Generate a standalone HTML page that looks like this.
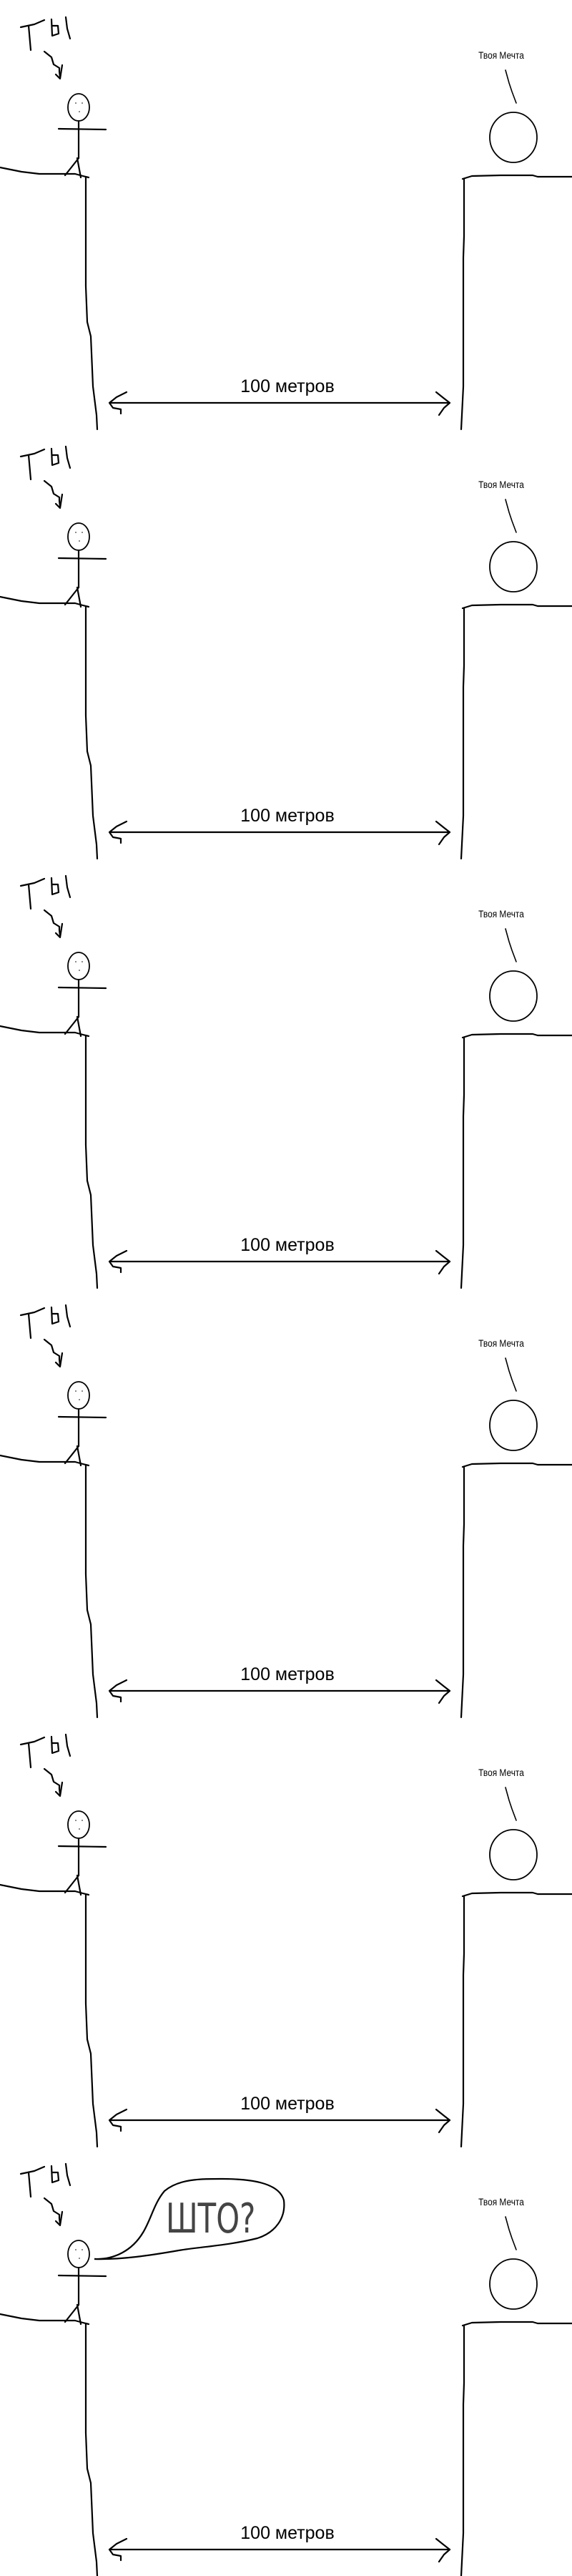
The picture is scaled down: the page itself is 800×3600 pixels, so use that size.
<!DOCTYPE html>
<html><head><meta charset="utf-8"><style>
html,body{margin:0;padding:0;background:#fff;}
svg{display:block}
</style></head><body>
<svg width="800" height="3600" viewBox="0 0 800 3600" xmlns="http://www.w3.org/2000/svg">
<defs>
<g id="p" fill="none" stroke="#000" stroke-width="2.2" stroke-linecap="round" stroke-linejoin="round">
  <path d="M29 38 L48 34 L62 28"/>
  <path d="M40 36 L43 70"/>
  <path d="M72 27 L73 50 L82 47 L81 36 L73 36"/>
  <path d="M92 24 L94 40 L98 54"/>
  <path d="M62 72 L72 80 L75 90 L83 95 L83 100 L84 108"/>
  <path d="M78 104 L84 110 L87 91"/>
  <ellipse cx="110" cy="150" rx="15" ry="19" stroke-width="1.8"/>
  <circle cx="106" cy="144" r="0.8" fill="#000" stroke="none"/>
  <circle cx="115" cy="144" r="0.8" fill="#000" stroke="none"/>
  <circle cx="111" cy="156" r="0.8" fill="#000" stroke="none"/>
  <path d="M110 169 L110 221"/>
  <path d="M82 180 L148 181"/>
  <path d="M110 221 L91 245 M108 221 L113 248"/>
  <path d="M0 234 L10 236 L30 240 L55 243 L105 243 L116 246 L124 248"/>
  <path d="M120 248 L120 400 L122 450 L127 470 L130 540 L135 580 L136 600"/>
  <path d="M647 250 L660 246 L700 245 L745 245 L752 247 L800 247"/>
  <path d="M649 250 L649 330 L648 360 L648 540 L646 580 L645 600"/>
  <ellipse cx="718" cy="192" rx="33" ry="35" stroke-width="1.8"/>
  <path d="M707 98 L712 116 L716 128 L722 144" stroke-width="1.6"/>
  <path d="M154 563 L629 563" stroke-width="2.2"/>
  <path d="M177 548 L163 555 L153 563 L158 570 L169 572 L169 578"/>
  <path d="M610 548 L620 556 L629 563 L621 570 L614 580"/>
</g>
<g id="t">
<text x="701" y="82" font-size="14" text-anchor="middle" transform="translate(701 0) scale(0.85 1) translate(-701 0)">Твоя Мечта</text>
<text x="402" y="548" font-size="25" text-anchor="middle">100 метров</text>
</g>
</defs>
<g font-family="Liberation Sans, sans-serif" fill="#000">
<use href="#p" y="0"/>
<use href="#p" y="600"/>
<use href="#p" y="1200"/>
<use href="#p" y="1800"/>
<use href="#p" y="2400"/>
<use href="#p" y="3000"/>
<use href="#t" y="0"/>
<use href="#t" y="600"/>
<use href="#t" y="1200"/>
<use href="#t" y="1800"/>
<use href="#t" y="2400"/>
<use href="#t" y="3000"/>
<g transform="translate(0,3000)">
<path d="M132 157 C160 158 185 145 200 120 C212 100 215 80 230 62 C250 45 280 45 310 45 C350 45 390 50 397 75 C400 100 385 120 360 128 C320 138 280 140 250 145 C210 152 170 158 132 157 Z" fill="none" stroke="#000" stroke-width="2.2"/>
<text x="232" y="120" font-size="44" font-family="DejaVu Sans, sans-serif" font-weight="normal" fill="#444" transform="translate(232 120) scale(0.95 1.3) translate(-232 -120)">ШТО?</text>
</g>
</g>
</svg>
</body></html>
